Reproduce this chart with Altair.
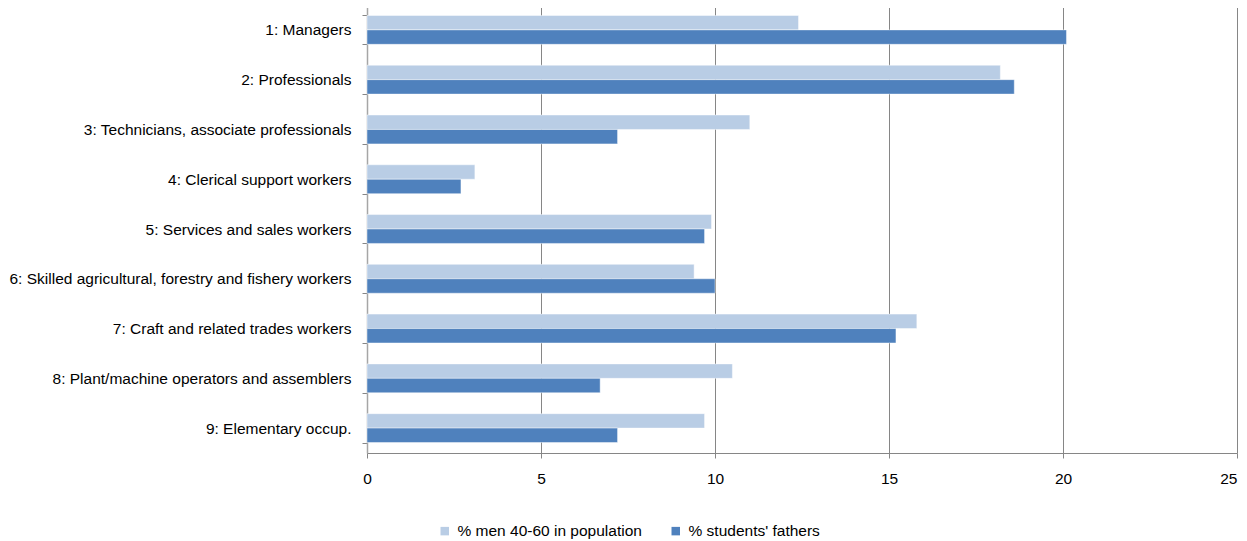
import altair as alt
import pandas as pd

categories = [
    "1: Managers",
    "2: Professionals",
    "3: Technicians, associate professionals",
    "4: Clerical support workers",
    "5: Services and sales workers",
    "6: Skilled agricultural, forestry and fishery workers",
    "7: Craft and related trades workers",
    "8: Plant/machine operators and assemblers",
    "9: Elementary occup.",
]
series = ["% men 40-60 in population", "% students' fathers"]
men_population = [12.4, 18.2, 11.0, 3.1, 9.9, 9.4, 15.8, 10.5, 9.7]
students_fathers = [20.1, 18.6, 7.2, 2.7, 9.7, 10.0, 15.2, 6.7, 7.2]
colors = ["#B9CDE5", "#4F81BD"]
x_ticks = [0, 5, 10, 15, 20, 25]

rows = []
for i, c in enumerate(categories):
    rows.append({"category": c, "series": series[0], "value": men_population[i]})
    rows.append({"category": c, "series": series[1], "value": students_fathers[i]})
df = pd.DataFrame(rows)

FONT = "Liberation Sans Narrow, Arial Narrow, Liberation Sans, sans-serif"
FS = 15.5

chart = (
    alt.Chart(df)
    .mark_bar(stroke="#ffffff", strokeOpacity=0.45, strokeWidth=1)
    .encode(
        x=alt.X(
            "value:Q",
            scale=alt.Scale(domain=[0, 25], nice=False),
            axis=alt.Axis(
                values=x_ticks,
                title=None,
                grid=True,
                gridColor="#868686",
                gridWidth=1,
                domainColor="#868686",
                tickColor="#868686",
                tickSize=5,
                labelPadding=13,
                labelFlush=False,
                labelAlign=alt.ExprRef("datum.value == 25 ? 'right' : 'center'"),
                labelFont=FONT,
                labelFontSize=FS,
                labelColor="#000000",
            ),
        ),
        y=alt.Y(
            "category:N",
            sort=categories,
            scale=alt.Scale(paddingInner=0.42, paddingOuter=0.21),
            axis=alt.Axis(
                title=None,
                tickBand="extent",
                domainColor="#A6A6A6",
                domainWidth=1.5,
                tickColor="#868686",
                tickSize=5,
                labelPadding=11,
                labelFont=FONT,
                labelFontSize=FS,
                labelColor="#000000",
                labelLimit=600,
            ),
        ),
        yOffset=alt.YOffset(
            "series:N",
            sort=series,
            scale=alt.Scale(paddingInner=0, paddingOuter=0),
        ),
        color=alt.Color(
            "series:N",
            sort=series,
            scale=alt.Scale(domain=series, range=colors),
            legend=alt.Legend(
                title=None,
                orient="none",
                direction="horizontal",
                legendX=70,
                legendY=518,
                symbolType="square",
                symbolSize=72,
                symbolStrokeWidth=0,
                labelOffset=5,
                labelLimit=400,
                columnPadding=26,
                labelFont=FONT,
                labelFontSize=FS,
                labelColor="#000000",
            ),
        ),
    )
    .properties(
        width=870,
        height=448,
        autosize=alt.AutoSizeParams(type="none"),
        padding={"left": 359, "top": -3, "right": 2, "bottom": 88},
    )
    .configure_view(stroke=None)
    .configure_axis(gridOpacity=1)
)

chart.save("out.html", embed_options={"renderer": "svg", "actions": False})
